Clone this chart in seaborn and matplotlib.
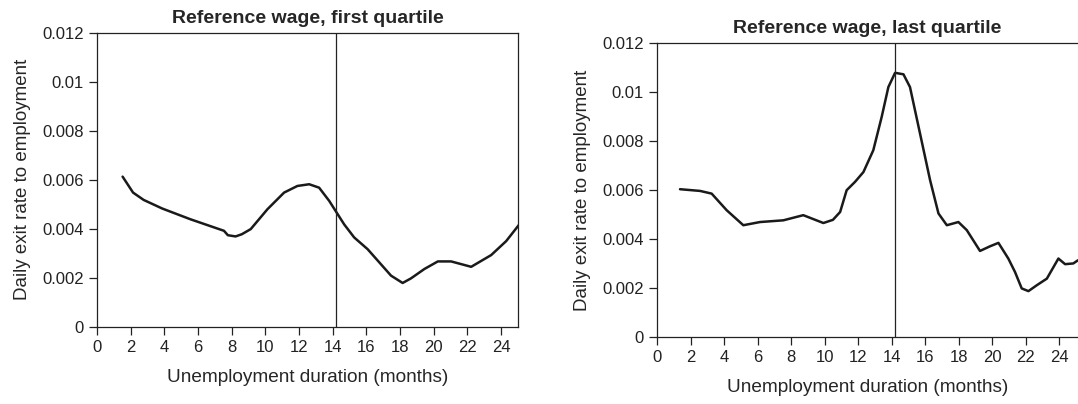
import matplotlib
matplotlib.use("Agg")
import matplotlib.pyplot as plt
import seaborn as sns
import pandas as pd
from matplotlib.ticker import FuncFormatter

# first quartile curve (months, daily exit rate)
q1_months = [1.52, 2.14, 2.77, 3.87, 5.55, 7.54, 7.77, 8.23, 8.6, 9.13, 10.12, 11.11,
             11.9, 12.6, 13.19, 13.79, 14.29, 14.68, 15.27, 16.07, 17.46, 18.15,
             18.65, 19.44, 20.24, 21.03, 22.22, 23.41, 24.3, 25.1]
q1_rate = [0.00613, 0.00548, 0.00518, 0.00483, 0.00439, 0.00392, 0.00374, 0.00369,
           0.00378, 0.00399, 0.0048, 0.00548, 0.00575, 0.00582, 0.00568, 0.00514,
           0.0046, 0.00418, 0.00365, 0.00317, 0.00209, 0.00179, 0.00198, 0.00236,
           0.00267, 0.00267, 0.00245, 0.00293, 0.0035, 0.0042]

# last quartile curve
q4_months = [1.37, 2.57, 3.26, 4.16, 5.15, 6.15, 7.54, 8.73, 9.93, 10.5, 10.93,
             11.32, 11.82, 12.32, 12.91, 13.41, 13.81, 14.21, 14.71, 15.1, 15.7,
             16.3, 16.8, 17.3, 17.99, 18.49, 19.28, 19.88, 20.38, 20.97, 21.37,
             21.77, 22.17, 22.67, 23.27, 23.96, 24.36, 24.85, 25.13]
q4_rate = [0.00603, 0.00596, 0.00585, 0.00517, 0.00456, 0.00469, 0.00476, 0.00497,
           0.00465, 0.00478, 0.0051, 0.00599, 0.00633, 0.00673, 0.00762, 0.00898,
           0.0102, 0.01078, 0.01072, 0.0102, 0.0083, 0.0064, 0.00504, 0.00456,
           0.00469, 0.00436, 0.00351, 0.0037, 0.00384, 0.0032, 0.00265, 0.00198,
           0.00187, 0.00211, 0.00238, 0.0032, 0.00297, 0.003, 0.00313]

ref_month = 14.2
x_ticks = list(range(0, 25, 2))
y_ticks = [0, 0.002, 0.004, 0.006, 0.008, 0.01, 0.012]

sns.set_style("ticks")
plt.rcParams['font.family'] = ['Liberation Sans', 'DejaVu Sans']

fig = plt.figure(figsize=(10.78, 4.04), dpi=100)
ax1 = fig.add_axes([0.090, 0.191, 0.3905, 0.7277])
ax2 = fig.add_axes([0.6095, 0.166, 0.3905, 0.7277])

panels = [
    (ax1, q1_months, q1_rate, "Reference wage, first quartile", 25.0),
    (ax2, q4_months, q4_rate, "Reference wage, last quartile", 25.13),
]

for ax, xs, ys, title, xmax in panels:
    df = pd.DataFrame({"month": xs, "rate": ys})
    sns.lineplot(data=df, x="month", y="rate", ax=ax, color="#1a1a1a",
                 linewidth=1.8, sort=False)
    ax.axvline(ref_month, color="#222222", linewidth=0.9)
    ax.set_xlim(0, xmax)
    ax.set_ylim(0, 0.012)
    ax.set_xticks(x_ticks)
    ax.set_yticks(y_ticks)
    ax.yaxis.set_major_formatter(FuncFormatter(lambda v, p: "0" if v == 0 else f"{v:g}"))
    ax.tick_params(direction="out", length=6, width=0.9, labelsize=12,
                   colors="#222222")
    for s in ax.spines.values():
        s.set_color("#222222")
        s.set_linewidth(0.9)
    ax.set_xlabel("Unemployment duration (months)", fontsize=13.7, labelpad=10)
    ax.set_ylabel("Daily exit rate to employment", fontsize=13.5, labelpad=8)
    ax.set_title(title, fontsize=14, fontweight="bold", pad=7)

ax2.spines["right"].set_visible(False)

fig.savefig("out.png", dpi=100)
